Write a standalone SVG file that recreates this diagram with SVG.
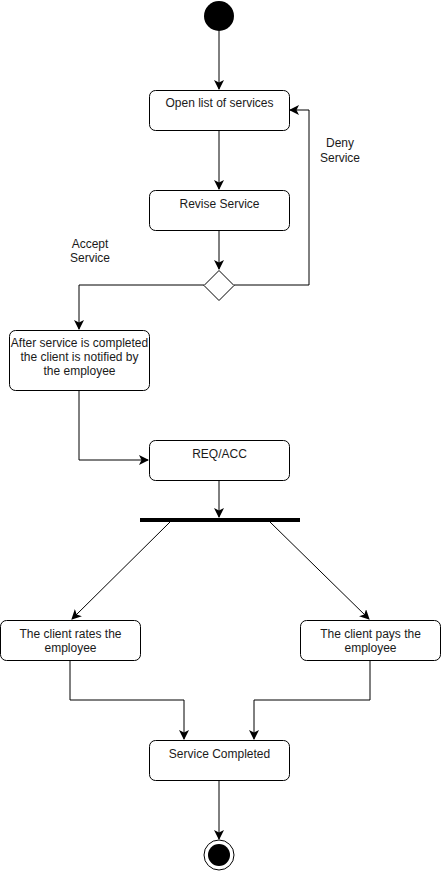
<svg xmlns="http://www.w3.org/2000/svg" width="441" height="871" viewBox="0 0 441 871">
  <style>
    .box { fill: #ffffff; stroke: #000000; stroke-width: 1; }
    .edge { fill: none; stroke: #000000; stroke-width: 1; }
    .lbl { font-family: "Liberation Sans", Arial, Helvetica, sans-serif; font-size: 12px; fill: #1a1a1a; text-anchor: middle; }
  </style>
  <defs>
    <marker id="arrow" viewBox="0 0 10 10" refX="9" refY="5" markerWidth="10" markerHeight="10" markerUnits="userSpaceOnUse" orient="auto">
      <path d="M0,0 L10,5 L0,10 L2.5,5 Z" fill="#000000"/>
    </marker>
  </defs>
  <rect width="441" height="871" fill="#ffffff"/>

  <g id="connectors">
    <path class="edge" d="M219,31 V89" marker-end="url(#arrow)"/>
    <path class="edge" d="M219,130 V189" marker-end="url(#arrow)"/>
    <path class="edge" d="M219,230 V269" marker-end="url(#arrow)"/>
    <path class="edge" d="M234,285 H309 V110 H290" marker-end="url(#arrow)"/>
    <path class="edge" d="M204,285 H79 V329" marker-end="url(#arrow)"/>
    <path class="edge" d="M79,390 V460 H148" marker-end="url(#arrow)"/>
    <path class="edge" d="M219,480 V517" marker-end="url(#arrow)"/>
    <path class="edge" d="M170,522 L72,619" marker-end="url(#arrow)"/>
    <path class="edge" d="M270,522 L369,619" marker-end="url(#arrow)"/>
    <path class="edge" d="M70,660 V700 H184 V739" marker-end="url(#arrow)"/>
    <path class="edge" d="M370,660 V700 H254 V739" marker-end="url(#arrow)"/>
    <path class="edge" d="M219,780 V839" marker-end="url(#arrow)"/>
    <text class="lbl" x="340" y="147">Deny</text>
    <text class="lbl" x="340" y="162">Service</text>
    <text class="lbl" x="90" y="248">Accept</text>
    <text class="lbl" x="90" y="262">Service</text>
  </g>

  <g id="start">
    <circle cx="219" cy="16" r="15" fill="#000000"/>
  </g>

  <g id="open-list">
    <rect class="box" x="149.5" y="90.5" width="140" height="40" rx="6"/>
    <text class="lbl" x="219.5" y="107">Open list of services</text>
  </g>

  <g id="revise-service">
    <rect class="box" x="149.5" y="190.5" width="140" height="40" rx="6"/>
    <text class="lbl" x="219.5" y="208">Revise Service</text>
  </g>

  <g id="decision">
    <path class="box" d="M219,270.5 L234,285.5 L219,300.5 L204,285.5 Z"/>
  </g>

  <g id="notify-client">
    <rect class="box" x="9.5" y="330.5" width="140" height="60" rx="6"/>
    <text class="lbl" x="79.5" y="347">After service is completed</text>
    <text class="lbl" x="79.5" y="361">the client is notified by</text>
    <text class="lbl" x="79.5" y="375">the employee</text>
  </g>

  <g id="req-acc">
    <rect class="box" x="149.5" y="440.5" width="140" height="40" rx="6"/>
    <text class="lbl" x="219.5" y="458">REQ/ACC</text>
  </g>

  <g id="fork">
    <rect x="140" y="518" width="160" height="4" fill="#000000"/>
  </g>

  <g id="client-rates">
    <rect class="box" x="0.5" y="620.5" width="140" height="40" rx="6"/>
    <text class="lbl" x="70.5" y="638">The client rates the</text>
    <text class="lbl" x="70.5" y="652">employee</text>
  </g>

  <g id="client-pays">
    <rect class="box" x="300.5" y="620.5" width="140" height="40" rx="6"/>
    <text class="lbl" x="370.5" y="638">The client pays the</text>
    <text class="lbl" x="370.5" y="652">employee</text>
  </g>

  <g id="service-completed">
    <rect class="box" x="149.5" y="740.5" width="140" height="40" rx="6"/>
    <text class="lbl" x="219.5" y="758">Service Completed</text>
  </g>

  <g id="end">
    <circle cx="219" cy="855" r="15" fill="#ffffff" stroke="#000000" stroke-width="1"/>
    <circle cx="219" cy="855" r="11" fill="#000000"/>
  </g>
</svg>
